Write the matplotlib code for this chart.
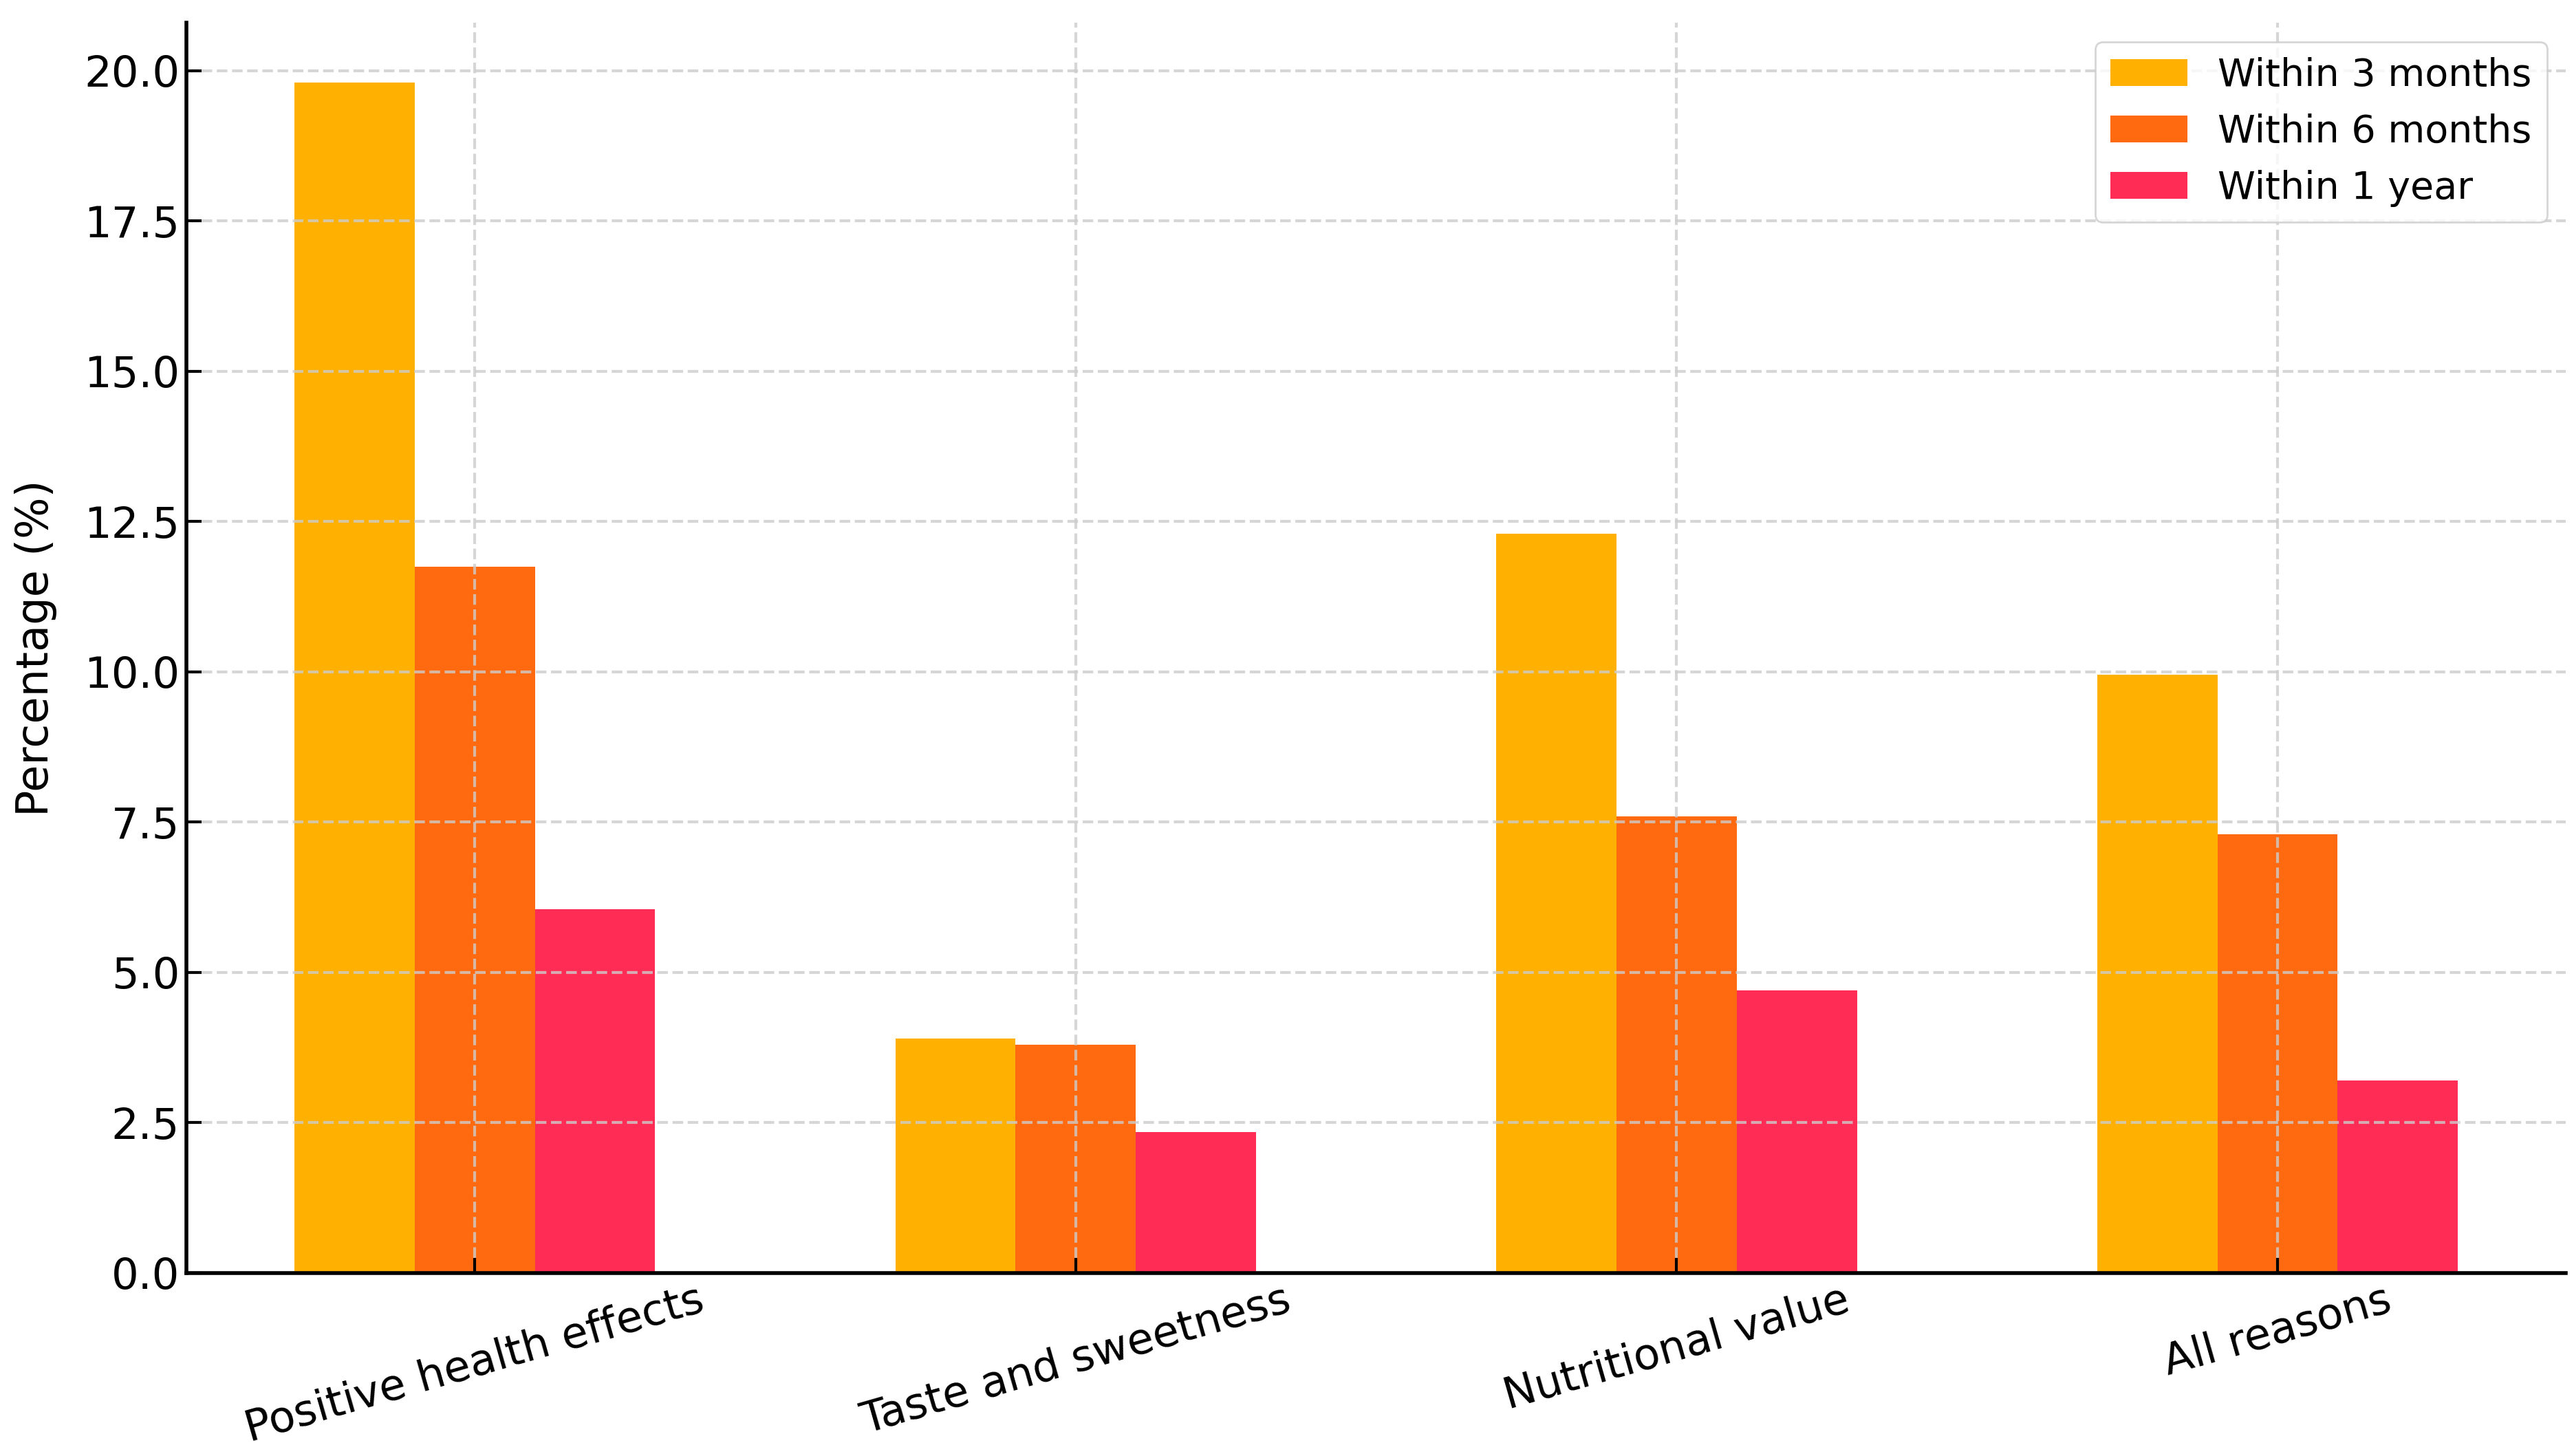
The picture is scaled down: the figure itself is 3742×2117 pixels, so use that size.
import numpy as np
import matplotlib
matplotlib.use('Agg')
import matplotlib.pyplot as plt

# data
categories = ['Positive health effects', 'Taste and sweetness', 'Nutritional value', 'All reasons']
series_names = ['Within 3 months', 'Within 6 months', 'Within 1 year']
within_3m = [19.8, 3.9, 12.3, 9.95]
within_6m = [11.75, 3.8, 7.6, 7.3]
within_1y = [6.05, 2.35, 4.7, 3.2]
colors = ['#FFB000', '#FF6A10', '#FF2D55']

fig = plt.figure(figsize=(18.71, 10.585), dpi=200)
ax = fig.add_axes([0.0724, 0.1257, 0.9245, 0.8587])

x = np.arange(len(categories))
w = 0.2
for i, (vals, name) in enumerate(zip([within_3m, within_6m, within_1y], series_names)):
    ax.bar(x + (i - 1) * w, vals, w, color=colors[i], label=name)

ax.set_xticks(x)
ax.set_xticklabels(categories, rotation=16, fontsize=22.5)
ax.tick_params(axis='y', labelsize=22.5)
ax.tick_params(direction='in', length=8, width=1.5)
ax.set_ylabel('Percentage (%)', fontsize=23, labelpad=14)
ax.set_xlim(-0.48, 3.48)
ax.set_ylim(0, 20.8)
ax.set_yticks(np.arange(0, 20.1, 2.5))

ax.grid(True, linestyle='--', color='#cccccc', linewidth=1.5, alpha=0.8)
ax.spines['top'].set_visible(False)
ax.spines['right'].set_visible(False)
ax.spines['left'].set_linewidth(2)
ax.spines['bottom'].set_linewidth(2)

ax.legend(loc='upper right', fontsize=20, borderaxespad=0.5)

fig.savefig('out.png', dpi=200)
